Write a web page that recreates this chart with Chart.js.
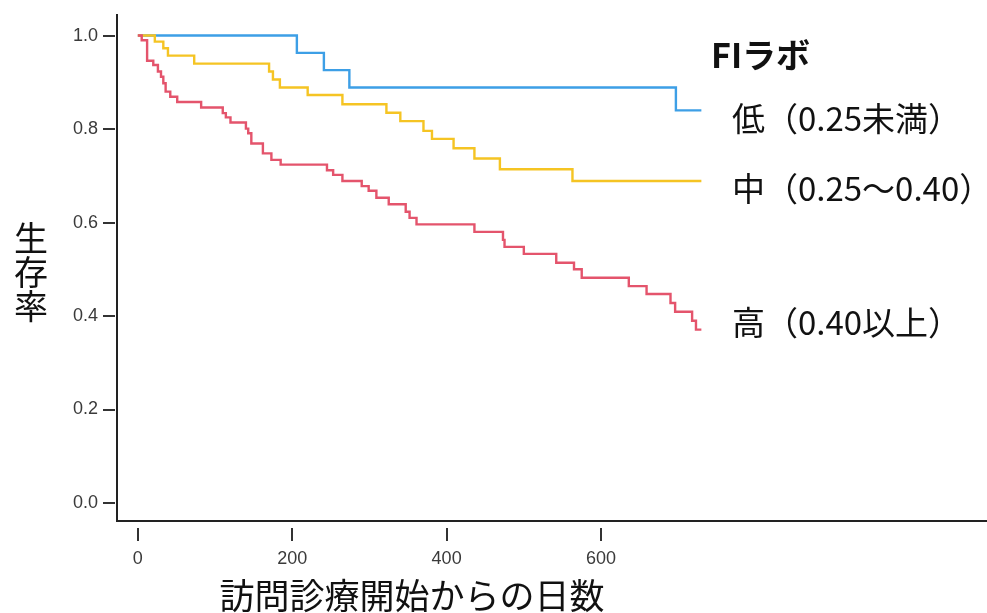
<!DOCTYPE html>
<html>
<head>
<meta charset="utf-8">
<script src="https://cdn.jsdelivr.net/npm/chart.js@4/dist/chart.umd.min.js"></script>
<style>
  html, body { margin: 0; padding: 0; background: #ffffff; }
  #wrap { width: 987px; height: 613px; }
</style>
</head>
<body>
<div id="wrap"><canvas id="km" width="987" height="613"></canvas></div>
<script>
// Kaplan–Meier survival by FI lab group: day of each step and survival after it
const lowDays  = [0, 206, 241, 274, 697, 730];
const lowSurv  = [1.0, 0.963, 0.926, 0.889, 0.840, 0.840];

const midDays  = [0, 22, 33, 39, 73, 170, 175, 184, 220, 265, 322, 340, 370, 381, 409, 436, 469, 563, 730];
const midSurv  = [1.0, 0.987, 0.973, 0.957, 0.940, 0.923, 0.906, 0.889, 0.873, 0.853, 0.835, 0.817, 0.796, 0.779, 0.759, 0.737, 0.714, 0.689, 0.689];

const highDays = [0, 5, 12, 20, 26, 30, 33, 36, 42, 51,
                  82, 110, 114, 120, 140, 143, 147, 162, 173, 185,
                  245, 253, 265, 290, 299, 309, 325, 347, 352, 361,
                  436, 473, 475, 500, 542, 565, 575, 636, 659, 690,
                  696, 718, 723, 730];
const highSurv = [1.0, 0.990, 0.946, 0.937, 0.923, 0.912, 0.898, 0.880, 0.869, 0.858,
                  0.846, 0.834, 0.825, 0.814, 0.801, 0.791, 0.769, 0.748, 0.734, 0.724,
                  0.712, 0.702, 0.689, 0.678, 0.668, 0.653, 0.639, 0.623, 0.610, 0.596,
                  0.580, 0.563, 0.548, 0.533, 0.514, 0.500, 0.482, 0.464, 0.447, 0.428,
                  0.409, 0.390, 0.371, 0.371];

const groupLabels = ['低（0.25未満）', '中（0.25～0.40）', '高（0.40以上）'];
const legendTitle = 'FIラボ';
const xTitle = '訪問診療開始からの日数';
const yTitle = '生存率';
const xTickValues = [0, 200, 400, 600];
const yTickValues = [0.0, 0.2, 0.4, 0.6, 0.8, 1.0];

const toPoints = (days, surv) => days.map((d, i) => ({ x: d, y: surv[i] }));

const COLORS = { low: '#3d9fe6', mid: '#f5c423', high: '#e4546c' };
const CJK = '"Noto Sans CJK JP", "Noto Sans", sans-serif';
const TICK_FONT = { family: '"Liberation Sans", Arial, sans-serif', size: 18 };

// tick marks (set slightly off the axis line), axis titles and group labels
const decorations = {
  id: 'decorations',
  afterDraw(chart) {
    const ctx = chart.ctx;
    const xs = chart.scales.x, ys = chart.scales.y;
    ctx.save();
    ctx.strokeStyle = '#333333';
    ctx.lineWidth = 2;
    ctx.beginPath();
    xTickValues.forEach(v => {
      const px = Math.round(xs.getPixelForValue(v));
      ctx.moveTo(px, 528); ctx.lineTo(px, 541);
    });
    yTickValues.forEach(v => {
      const py = Math.round(ys.getPixelForValue(v));
      ctx.moveTo(103, py); ctx.lineTo(115, py);
    });
    ctx.stroke();

    ctx.fillStyle = '#111111';
    ctx.textBaseline = 'middle';
    ctx.textAlign = 'center';
    ctx.font = '34px ' + CJK;
    [...yTitle].forEach((ch, i) => ctx.fillText(ch, 31, 238 + i * 34));
    ctx.font = '35px ' + CJK;
    ctx.fillText(xTitle, 412, 596);

    ctx.textAlign = 'left';
    ctx.font = 'bold 34px ' + CJK;
    ctx.fillText(legendTitle, 711, 55);
    ctx.font = '33px ' + CJK;
    const labelY = [118, 188, 322];
    groupLabels.forEach((t, i) => ctx.fillText(t, 732, labelY[i]));
    ctx.restore();
  }
};

const lineSet = (label, days, surv, color) => ({
  label,
  data: toPoints(days, surv),
  borderColor: color,
  backgroundColor: color,
  borderWidth: 2.4,
  pointRadius: 0,
  stepped: 'before',
  fill: false
});

new Chart(document.getElementById('km'), {
  type: 'line',
  data: {
    datasets: [
      lineSet(groupLabels[2], highDays, highSurv, COLORS.high),
      lineSet(groupLabels[1], midDays, midSurv, COLORS.mid),
      lineSet(groupLabels[0], lowDays, lowSurv, COLORS.low)
    ]
  },
  options: {
    responsive: false,
    animation: false,
    layout: { padding: { top: 15, right: 0, bottom: 0, left: 0 } },
    plugins: { legend: { display: false }, tooltip: { enabled: false } },
    scales: {
      x: {
        type: 'linear',
        min: -27,
        max: 1100,
        afterFit(s) { s.height = 92; s.paddingLeft = 0; s.paddingRight = 0; },
        afterBuildTicks(s) { s.ticks = xTickValues.map(v => ({ value: v })); },
        grid: { drawOnChartArea: false, drawTicks: false },
        border: { display: true, color: '#222222', width: 2 },
        ticks: {
          padding: 27,
          color: '#3a3a3a',
          maxRotation: 0,
          autoSkip: false,
          font: TICK_FONT,
          callback: v => String(v)
        }
      },
      y: {
        type: 'linear',
        min: -0.0385,
        max: 1.044,
        afterFit(s) { s.width = 117; s.paddingTop = 0; s.paddingBottom = 0; },
        afterBuildTicks(s) { s.ticks = yTickValues.map(v => ({ value: v })); },
        grid: { drawOnChartArea: false, drawTicks: false },
        border: { display: true, color: '#222222', width: 2 },
        ticks: {
          padding: 19,
          color: '#3a3a3a',
          autoSkip: false,
          font: TICK_FONT,
          callback: v => Number(v).toFixed(1)
        }
      }
    }
  },
  plugins: [decorations]
});
</script>
</body>
</html>
